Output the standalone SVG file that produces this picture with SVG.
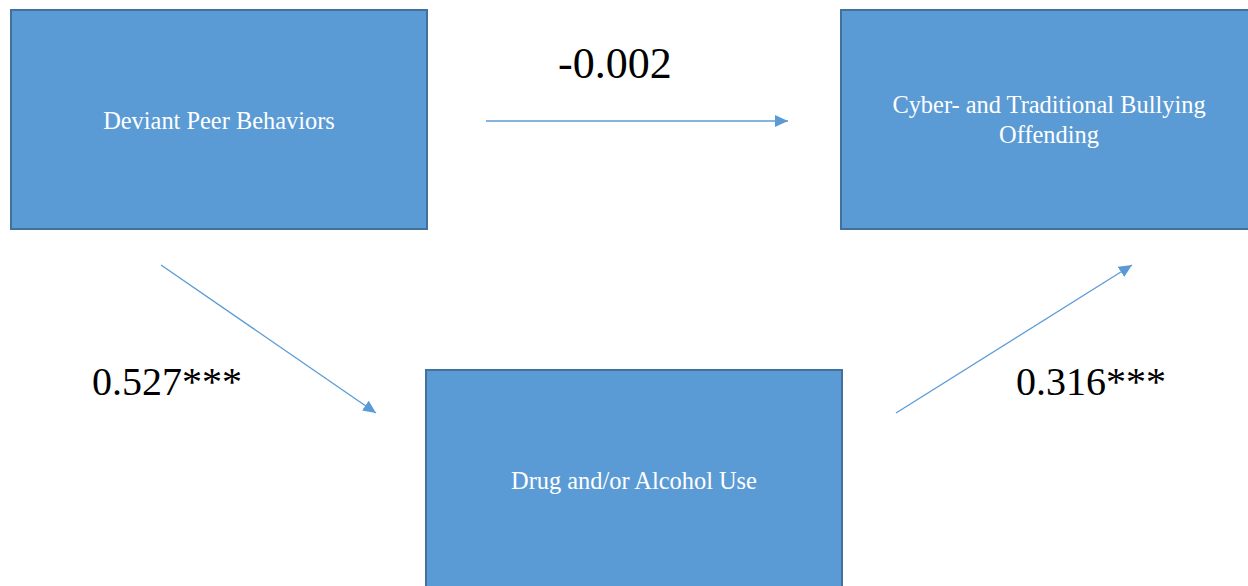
<svg xmlns="http://www.w3.org/2000/svg" width="1248" height="586" viewBox="0 0 1248 586">
<style>
.box{fill:#5B9BD5;stroke:#41719C;stroke-width:2}
.bt{font-family:"Liberation Serif","Times New Roman",serif;font-size:24.4px;fill:#ffffff;text-anchor:middle}
.lbl{font-family:"Liberation Serif","Times New Roman",serif;font-size:40px;fill:#000000}
.con{stroke:#5B9BD5;stroke-width:1.3;fill:none}
</style>
<defs>
<marker id="ah" markerUnits="userSpaceOnUse" markerWidth="14" markerHeight="12" refX="13" refY="6" orient="auto">
<path d="M0,0 L13,6 L0,12 Z" fill="#5B9BD5"/>
</marker>
</defs>
<rect width="1248" height="586" fill="#ffffff"/>
<g id="node-deviant">
<rect class="box" x="11" y="10" width="416" height="219"/>
<text class="bt" x="219" y="129">Deviant Peer Behaviors</text>
</g>
<g id="node-bullying">
<rect class="box" x="841" y="10" width="418" height="219"/>
<text class="bt" x="1049" y="113">Cyber- and Traditional Bullying</text>
<text class="bt" x="1049" y="143">Offending</text>
</g>
<g id="node-drug">
<rect class="box" x="426" y="370" width="416" height="230"/>
<text class="bt" x="634" y="489">Drug and/or Alcohol Use</text>
</g>
<g id="connectors">
<line class="con" x1="486" y1="121" x2="788" y2="121" marker-end="url(#ah)"/>
<line class="con" x1="161" y1="265" x2="376" y2="413" marker-end="url(#ah)"/>
<line class="con" x1="896" y1="413" x2="1132" y2="265" marker-end="url(#ah)"/>
</g>
<g id="labels">
<text class="lbl" x="558" y="78" style="font-size:44px">-0.002</text>
<text class="lbl" x="92" y="395">0.527***</text>
<text class="lbl" x="1016" y="395">0.316***</text>
</g>
</svg>
